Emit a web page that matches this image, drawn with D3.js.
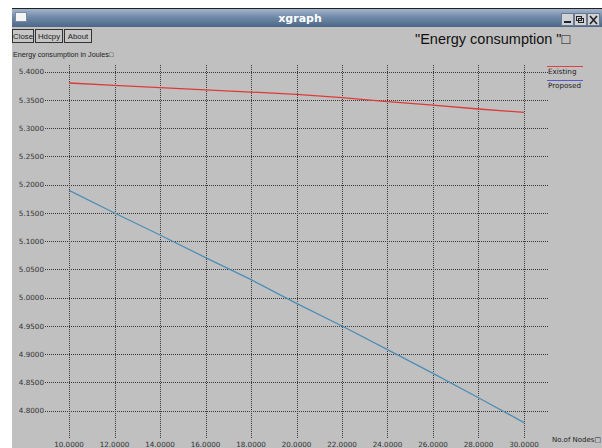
<!DOCTYPE html>
<html>
<head>
<meta charset="utf-8">
<script src="https://cdn.jsdelivr.net/npm/d3@7/dist/d3.min.js"></script>
<style>
body{margin:0;background:#fff;overflow:hidden;}
svg{display:block;}
</style>
</head>
<body>
<div id="chart"></div>
<script>
// data
const nodes = [10, 12, 14, 16, 18, 20, 22, 24, 26, 28, 30]
const existing = [5.380, 5.376, 5.372, 5.368, 5.364, 5.360, 5.354, 5.347, 5.341, 5.334, 5.328]
const proposed = [5.190, 5.150, 5.111, 5.071, 5.032, 4.990, 4.950, 4.908, 4.866, 4.823, 4.779]
const xTicks = [10, 12, 14, 16, 18, 20, 22, 24, 26, 28, 30]
const yTicks = [4.80, 4.85, 4.90, 4.95, 5.00, 5.05, 5.10, 5.15, 5.20, 5.25, 5.30, 5.35, 5.40]
const seriesNames = ["Existing", "Proposed"]
const lineColors = ["#dd3b3b", "#4f8db5"]
const legendColors = ["#e04040", "#5a5ad0"]
const menuButtons = ["Close", "Hdcpy", "About"]

const W = 602, H = 448
const small = "'DejaVu Sans', sans-serif"
const sans = "'Liberation Sans', Arial, sans-serif"

let svg = d3.select("#chart").append("svg")
    .attr("width", W).attr("height", H)

// window frame
svg.append("rect").attr("width", W).attr("height", H).style("fill", "#ffffff")
svg.append("rect").attr("x", 12).attr("y", 27).attr("width", W - 12).attr("height", H - 27).style("fill", "#c0c0c0")

let grad = svg.append("defs").append("linearGradient").attr("id", "bar")
    .attr("x1", 0).attr("y1", 0).attr("x2", 0).attr("y2", 1)
grad.append("stop").attr("offset", "0%").attr("stop-color", "#a3b5cc")
grad.append("stop").attr("offset", "45%").attr("stop-color", "#7089a8")
grad.append("stop").attr("offset", "100%").attr("stop-color", "#4d6787")

svg.append("rect").attr("x", 12).attr("y", 8).attr("width", W - 12).attr("height", 1).style("fill", "#222")
svg.append("rect").attr("x", 12).attr("y", 9).attr("width", W - 12).attr("height", 18).style("fill", "url(#bar)")
svg.append("rect").attr("x", 15.5).attr("y", 12.5).attr("width", 11).attr("height", 9)
    .style("fill", "#f4f4f4").style("stroke", "#7a8aa0")
svg.append("text").attr("x", 300).attr("y", 22).attr("text-anchor", "middle")
    .text("xgraph").style("fill", "#fff").style("font-weight", "bold")
    .style("font-family", small).style("font-size", "11px")

// title bar buttons
const winBtn = [561, 574, 587]
winBtn.forEach(function(bx){
    svg.append("rect").attr("x", bx + 0.5).attr("y", 13.5).attr("width", 12).attr("height", 12)
        .style("fill", "#cfd3d8").style("stroke", "#6c7a8c")
})
svg.append("rect").attr("x", 564).attr("y", 21).attr("width", 7).attr("height", 2).style("fill", "#222")
svg.append("rect").attr("x", 578.5).attr("y", 18.5).attr("width", 5).attr("height", 4).style("fill", "none").style("stroke", "#222")
svg.append("rect").attr("x", 576.5).attr("y", 16.5).attr("width", 5).attr("height", 4).style("fill", "none").style("stroke", "#222")
svg.append("path").attr("d", "M590,16L597,24M597,16L590,24").style("stroke", "#222").style("stroke-width", 1.6)

// xgraph menu buttons
let bx = 12.5
const bw = [21, 27, 27]
menuButtons.forEach(function(b, i){
    svg.append("rect").attr("x", bx).attr("y", 29.5).attr("width", bw[i]).attr("height", 13)
        .style("fill", "#c6c6c6").style("stroke", "#333")
    svg.append("text").attr("x", bx + bw[i] / 2).attr("y", 39).attr("text-anchor", "middle")
        .text(b).style("font-family", sans).style("font-size", "7.8px").style("fill", "#222")
    bx += bw[i] + 2
})

// titles
svg.append("text").attr("x", 415).attr("y", 44).text("\"Energy consumption \"\u25A1")
    .style("font-family", sans).style("font-size", "14.5px").style("fill", "#111")
svg.append("text").attr("x", 13).attr("y", 57).text("Energy consumption in Joules\u25A1")
    .style("font-family", sans).style("font-size", "7.2px").style("fill", "#222")
svg.append("text").attr("x", 552).attr("y", 442).text("No.of Nodes\u25A1")
    .style("font-family", small).style("font-size", "7px").style("fill", "#222")

// scales fitted to the xgraph frame
let x = d3.scaleLinear().domain([8.945, 31.055]).range([45, 548])
let y = d3.scaleLinear().domain([4.7517, 5.4119]).range([438, 65])

let grid = svg.append("g")
grid.selectAll("hline").data(yTicks).join("line")
    .attr("x1", x.range()[0]).attr("x2", x.range()[1])
    .attr("y1", d => Math.round(y(d)) + 0.5).attr("y2", d => Math.round(y(d)) + 0.5)
    .style("stroke", "#3a3a3a").style("stroke-dasharray", "1,1")
grid.selectAll("vline").data(xTicks).join("line")
    .attr("x1", d => Math.round(x(d)) + 0.5).attr("x2", d => Math.round(x(d)) + 0.5)
    .attr("y1", y.range()[1]).attr("y2", y.range()[0])
    .style("stroke", "#3a3a3a").style("stroke-dasharray", "1,1")

svg.selectAll("ylab").data(yTicks).join("text")
    .attr("x", 44).attr("y", d => y(d) + 2.6).attr("text-anchor", "end")
    .text(d => d.toFixed(4)).style("font-family", small).style("font-size", "7.2px").style("fill", "#333")
svg.selectAll("xlab").data(xTicks).join("text")
    .attr("x", d => x(d)).attr("y", 447).attr("text-anchor", "middle")
    .text(d => d.toFixed(4)).style("font-family", small).style("font-size", "7.2px").style("fill", "#333")

// lines
let line = d3.line().x(d => x(d[0])).y(d => y(d[1]))
const series = [existing, proposed]
series.forEach(function(vals, i){
    svg.append("path").datum(d3.zip(nodes, vals)).attr("d", line)
        .style("fill", "none").style("stroke", lineColors[i]).style("stroke-width", 1.3)
})

// legend
seriesNames.forEach(function(n, i){
    svg.append("line").attr("x1", 547).attr("x2", 583).attr("y1", 66.5 + i * 14).attr("y2", 66.5 + i * 14)
        .style("stroke", legendColors[i]).style("stroke-width", 1.2)
    svg.append("text").attr("x", 548).attr("y", 74 + i * 14).text(n)
        .style("font-family", small).style("font-size", "7.2px").style("fill", "#222")
})
</script>
</body>
</html>
